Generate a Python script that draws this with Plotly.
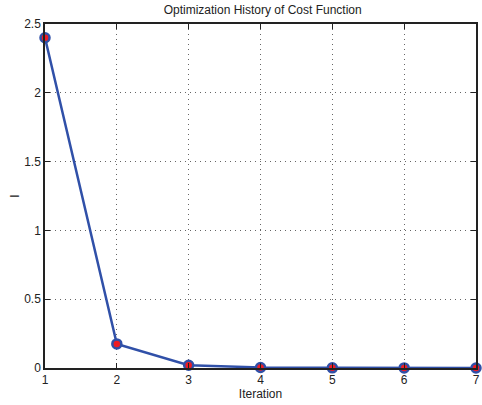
import plotly.graph_objects as go

iterations = [1, 2, 3, 4, 5, 6, 7]
cost = [2.40, 0.175, 0.02, 0.004, 0.001, 0.0005, 0.0002]
x_ticks = [1, 2, 3, 4, 5, 6, 7]
y_ticks = [0, 0.5, 1, 1.5, 2, 2.5]
y_tick_text = ["0", "0.5", "1", "1.5", "2", "2.5"]

fig = go.Figure()
fig.add_trace(go.Scatter(
    x=iterations, y=cost, mode="lines+markers",
    line=dict(color="#3050a8", width=2.5),
    marker=dict(color="#ee1c24", size=9, line=dict(color="#3050a8", width=2.5)),
    cliponaxis=False,
))

axis_common = dict(
    showline=True, linecolor="#222222", linewidth=1.5, mirror="ticks",
    ticks="inside", ticklen=5, tickcolor="#222222",
    showgrid=True, gridcolor="#666666", griddash="1px,4px", gridwidth=1,
    zeroline=False,
    tickfont=dict(family="Liberation Sans, Arial", size=12, color="#222222"),
    title_font=dict(family="Liberation Sans, Arial", size=12, color="#222222"),
)

fig.update_layout(
    width=482, height=405,
    margin=dict(l=45, r=2, t=24, b=37),
    paper_bgcolor="white", plot_bgcolor="white",
    showlegend=False,
    title=dict(text="Optimization History of Cost Function", x=0.545, xanchor="center",
               y=0.985, yanchor="top",
               font=dict(family="Liberation Sans, Arial", size=12, color="#222222")),
)
fig.update_xaxes(range=[1, 7], tickvals=x_ticks, title_text="Iteration",
                 title_standoff=0, ticklabelstandoff=0, **axis_common)
fig.update_yaxes(range=[0, 2.5], tickvals=y_ticks, ticktext=y_tick_text,
                 title_text="I", title_standoff=2, **axis_common)

fig.write_html("out.html")
